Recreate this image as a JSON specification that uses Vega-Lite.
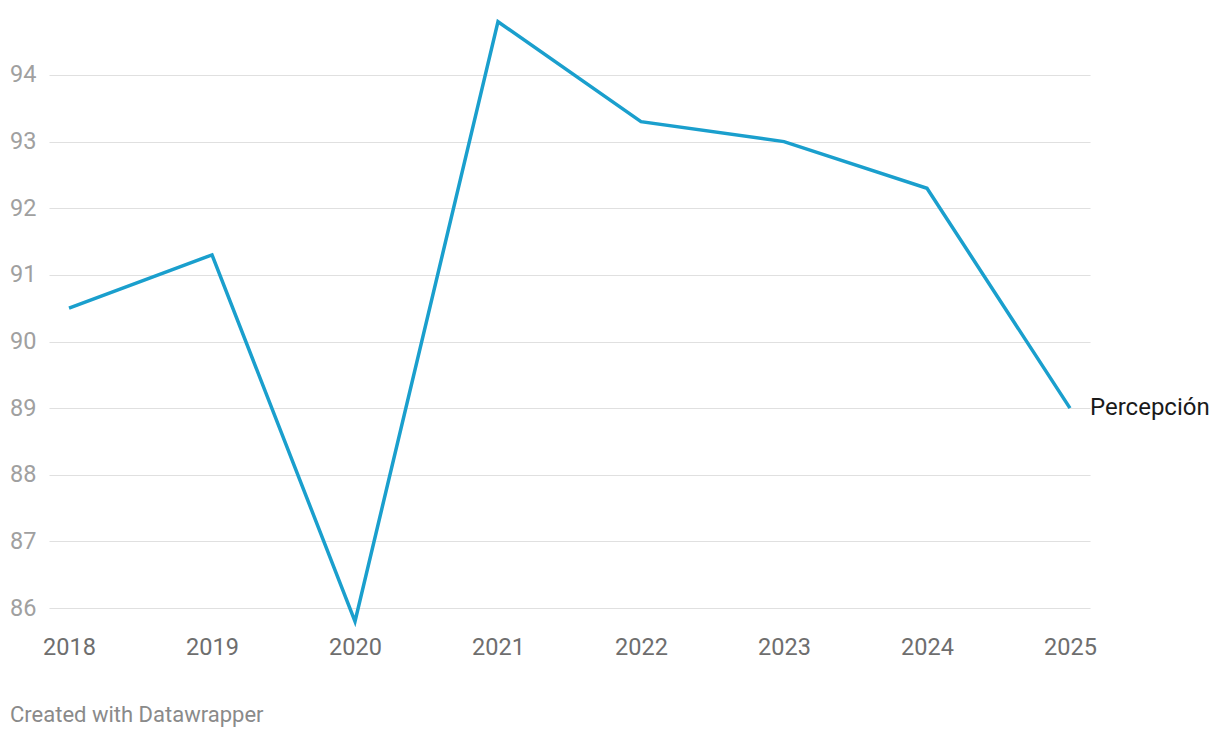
{
  "$schema": "https://vega.github.io/schema/vega-lite/v6.json",
  "width": 1041,
  "height": 630,
  "padding": {"left": 49, "top": 0, "right": 130, "bottom": 108},
  "autosize": {"type": "none"},
  "background": "white",
  "config": {"view": {"stroke": null}, "font": "Roboto"},
  "title": {"text": "Created with Datawrapper", "orient": "bottom", "anchor": "start", "frame": "group", "dx": -39, "offset": 46, "fontSize": 22, "fontWeight": "normal", "color": "#8a8a8a", "font": "Roboto"},
  "data": {"values": [
    {"year": 2018, "value": 90.5, "series": "Percepción"},
    {"year": 2019, "value": 91.3, "series": "Percepción"},
    {"year": 2020, "value": 85.8, "series": "Percepción"},
    {"year": 2021, "value": 94.8, "series": "Percepción"},
    {"year": 2022, "value": 93.3, "series": "Percepción"},
    {"year": 2023, "value": 93.0, "series": "Percepción"},
    {"year": 2024, "value": 92.3, "series": "Percepción"},
    {"year": 2025, "value": 89.0, "series": "Percepción"}
  ]},
  "encoding": {
    "x": {"field": "year", "type": "quantitative", "scale": {"domain": [2017.86, 2025.14], "nice": false, "zero": false},
      "axis": {"title": null, "values": [2018, 2019, 2020, 2021, 2022, 2023, 2024, 2025], "format": "d", "grid": false, "domain": false, "ticks": false, "labelFontSize": 23.5, "labelColor": "#6e6e6e", "labelPadding": 5, "labelFont": "Roboto"}},
    "y": {"field": "value", "type": "quantitative", "scale": {"domain": [85.6698, 95.1257], "nice": false, "zero": false},
      "axis": {"title": null, "values": [86, 87, 88, 89, 90, 91, 92, 93, 94], "grid": true, "gridColor": "#e0e0e0", "gridWidth": 1.2, "domain": false, "ticks": false, "labelFontSize": 23.5, "labelColor": "#a0a0a0", "labelPadding": 13, "labelFont": "Roboto"}}
  },
  "layer": [
    {"mark": {"type": "line", "color": "#1a9fcd", "strokeWidth": 3.5, "strokeJoin": "miter"}},
    {"transform": [{"filter": "datum.year == 2025"}],
     "mark": {"type": "text", "align": "left", "baseline": "middle", "dx": 20, "fontSize": 24, "color": "#1a1a1a", "font": "Roboto"},
     "encoding": {"text": {"field": "series"}}}
  ]
}
